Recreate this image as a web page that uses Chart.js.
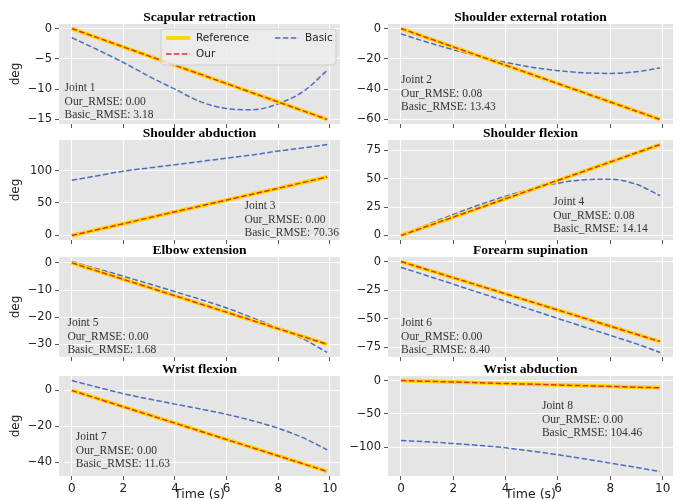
<!DOCTYPE html>
<html>
<head>
<meta charset="utf-8">
<script src="https://cdn.jsdelivr.net/npm/chart.js@4.4.1/dist/chart.umd.min.js"></script>
<style>
  html, body { margin: 0; padding: 0; background: #fff; }
  #wrap { position: relative; width: 681px; height: 500px; overflow: hidden; }
  #wrap canvas { position: absolute; left: 0; top: 0; }
</style>
</head>
<body>
<div id="wrap"></div>
<script>
// data
const timeRef = [0, 9.9];
const timeBasic = [0, 1, 2, 3, 4, 5, 6, 7, 8, 9, 9.9];
const xTicks = [0, 2, 4, 6, 8, 10];

const jointTitles = [
  'Scapular retraction', 'Shoulder external rotation',
  'Shoulder abduction', 'Shoulder flexion',
  'Elbow extension', 'Forearm supination',
  'Wrist flexion', 'Wrist abduction'
];

const refJ1 = [0, -15];
const refJ2 = [0, -60];
const refJ3 = [0, 90];
const refJ4 = [0, 80];
const refJ5 = [0, -30];
const refJ6 = [0, -70];
const refJ7 = [0, -45];
const refJ8 = [0, -11];

const ourJ1 = [0, -15];
const ourJ2 = [0, -60];
const ourJ3 = [0, 90];
const ourJ4 = [0, 80];
const ourJ5 = [0, -30];
const ourJ6 = [0, -70];
const ourJ7 = [0, -45];
const ourJ8 = [0, -11];

const basicJ1 = [-1.5, -3.5, -5.6, -7.9, -10.0, -12.1, -13.2, -13.4, -12.4, -10.3, -6.9];
const basicJ2 = [-3.5, -9, -14, -18.5, -22.3, -25.5, -27.8, -29.2, -29.6, -28.5, -26];
const basicJ3 = [85, 92, 99, 104, 109, 114, 119, 124, 130, 135, 140];
const basicJ4 = [0, 9.5, 18.5, 27, 34.5, 41, 46, 49, 49.5, 45, 35];
const basicJ5 = [0.5, -2.2, -4.9, -7.7, -10.6, -13.5, -16.6, -20.2, -24.0, -28.2, -33];
const basicJ6 = [-5, -12.4, -19.8, -27.3, -34.8, -42.3, -49.8, -57.2, -64.6, -72.0, -79.5];
const basicJ7 = [5.5, 1.8, -1.8, -4.8, -7.6, -10.3, -13.3, -16.8, -21, -26.5, -33];
const basicJ8 = [-90, -92, -94.5, -97.5, -101, -106, -111.5, -117.5, -124, -130.5, -136.5];

const yTicksJ1 = [-15, -10, -5, 0];
const yTicksJ2 = [-60, -40, -20, 0];
const yTicksJ3 = [0, 50, 100];
const yTicksJ4 = [0, 25, 50, 75];
const yTicksJ5 = [-30, -20, -10, 0];
const yTicksJ6 = [-75, -50, -25, 0];
const yTicksJ7 = [-40, -20, 0];
const yTicksJ8 = [-100, -50, 0];

const ourRmse = ['0.00', '0.08', '0.00', '0.08', '0.00', '0.00', '0.00', '0.00'];
const basicRmse = ['3.18', '13.43', '70.36', '14.14', '1.68', '8.40', '11.63', '104.46'];

const refSeries = [refJ1, refJ2, refJ3, refJ4, refJ5, refJ6, refJ7, refJ8];
const ourSeries = [ourJ1, ourJ2, ourJ3, ourJ4, ourJ5, ourJ6, ourJ7, ourJ8];
const basicSeries = [basicJ1, basicJ2, basicJ3, basicJ4, basicJ5, basicJ6, basicJ7, basicJ8];
const yTickSets = [yTicksJ1, yTicksJ2, yTicksJ3, yTicksJ4, yTicksJ5, yTicksJ6, yTicksJ7, yTicksJ8];

// layout (pixels of the 681x500 page)
const W = 681, H = 500;
const Y_AXIS_W = 50, X_AXIS_H = 22;
const colX = [[59, 340], [388, 673]];
const rowY = [[24, 124], [140, 240], [257, 357], [376, 476]];
// joint note position, as fraction of plot area (left, first line centre)
const notePos = [[0.02, 0.64], [0.046, 0.56], [0.66, 0.66], [0.58, 0.62],
                 [0.03, 0.66], [0.046, 0.66], [0.06, 0.61], [0.54, 0.30]];

const COLORS = { ref: '#FFD700', our: '#E0302E', basic: '#4A6DBE' };
const DASH = [5.5, 2.4];
const TICK_FONT = 'DejaVu Sans';
const SERIF = '"Liberation Serif", "Times New Roman", serif';

const wrap = document.getElementById('wrap');

const bgPlugin = {
  id: 'panelBg',
  beforeDraw(chart) {
    const a = chart.chartArea, c = chart.ctx;
    c.save();
    c.fillStyle = '#E5E5E5';
    c.fillRect(a.left, a.top, a.right - a.left, a.bottom - a.top);
    c.restore();
  }
};

function drawLegend(c, a) {
  const bw = 175, bh = 36;
  const bx = a.right - 4 - bw, by = a.top + 5;
  c.save();
  c.beginPath();
  c.roundRect(bx, by, bw, bh, 3);
  c.fillStyle = 'rgba(236,236,236,0.85)';
  c.fill();
  c.strokeStyle = '#CCCCCC';
  c.lineWidth = 1;
  c.stroke();

  const items = [
    { label: 'Reference', color: COLORS.ref, width: 4, dash: [], x: bx + 5, y: by + 9 },
    { label: 'Basic', color: COLORS.basic, width: 1.5, dash: DASH, x: bx + 114, y: by + 9 },
    { label: 'Our', color: COLORS.our, width: 1.5, dash: DASH, x: bx + 5, y: by + 25 }
  ];
  c.font = '10.5px ' + TICK_FONT;
  c.textBaseline = 'middle';
  c.fillStyle = '#222';
  items.forEach(it => {
    c.beginPath();
    c.setLineDash(it.dash);
    c.strokeStyle = it.color;
    c.lineWidth = it.width;
    c.moveTo(it.x, it.y);
    c.lineTo(it.x + 24, it.y);
    c.stroke();
    c.setLineDash([]);
    c.fillText(it.label, it.x + 30, it.y + 0.5);
  });
  c.restore();
}

const textPlugin = {
  id: 'panelText',
  afterDraw(chart, args, opts) {
    const a = chart.chartArea, c = chart.ctx;
    const i = opts.index;
    c.save();
    // title
    c.font = 'bold 13.5px ' + SERIF;
    c.fillStyle = '#000';
    c.textAlign = 'center';
    c.textBaseline = 'alphabetic';
    c.fillText(jointTitles[i], (a.left + a.right) / 2, a.top - 3);

    // joint note
    const nx = a.left + notePos[i][0] * (a.right - a.left);
    const ny = a.top + notePos[i][1] * (a.bottom - a.top);
    c.font = '11.5px ' + SERIF;
    c.fillStyle = '#333';
    c.textAlign = 'left';
    c.textBaseline = 'middle';
    const lines = ['Joint ' + (i + 1), 'Our_RMSE: ' + ourRmse[i], 'Basic_RMSE: ' + basicRmse[i]];
    lines.forEach((t, k) => c.fillText(t, nx, ny + k * 13.7));

    // y label on the left column
    if (opts.col === 0) {
      c.save();
      c.translate(16, (a.top + a.bottom) / 2);
      c.rotate(-Math.PI / 2);
      c.font = '12px ' + TICK_FONT;
      c.fillStyle = '#222';
      c.textAlign = 'center';
      c.textBaseline = 'middle';
      c.fillText('deg', 0, 0);
      c.restore();
    }
    // x label on the bottom row
    if (opts.row === 3) {
      c.font = '12.5px ' + TICK_FONT;
      c.fillStyle = '#222';
      c.textAlign = 'center';
      c.textBaseline = 'middle';
      c.fillText('Time (s)', (a.left + a.right) / 2, 495);
    }
    if (i === 0) drawLegend(c, a);
    c.restore();
  }
};

function toPoints(xs, ys) {
  return xs.map((x, k) => ({ x, y: ys[k] }));
}

function minus(v) {
  return String(v).replace('-', '\u2212');
}

jointTitles.forEach((title, i) => {
  const col = i % 2, row = Math.floor(i / 2);
  const [L, R] = colX[col];
  const [T, B] = rowY[row];

  const all = [...refSeries[i], ...ourSeries[i], ...basicSeries[i]];
  const lo = Math.min(...all), hi = Math.max(...all);
  const m = (hi - lo) * 0.05;
  const xm = (timeBasic[timeBasic.length - 1] - timeBasic[0]) * 0.05;

  const canvas = document.createElement('canvas');
  canvas.width = W; canvas.height = H;
  canvas.style.width = W + 'px'; canvas.style.height = H + 'px';
  wrap.appendChild(canvas);

  new Chart(canvas, {
    type: 'line',
    data: {
      datasets: [
        { label: 'Basic', data: toPoints(timeBasic, basicSeries[i]), borderColor: COLORS.basic, borderWidth: 1.5, borderDash: DASH, pointRadius: 0, cubicInterpolationMode: 'monotone', order: 3 },
        { label: 'Reference', data: toPoints(timeRef, refSeries[i]), borderColor: COLORS.ref, borderWidth: 4, pointRadius: 0, order: 2 },
        { label: 'Our', data: toPoints(timeRef, ourSeries[i]), borderColor: COLORS.our, borderWidth: 1.5, borderDash: DASH, pointRadius: 0, order: 1 }
      ]
    },
    options: {
      responsive: false,
      animation: false,
      events: [],
      layout: { padding: { left: L - Y_AXIS_W, right: W - R, top: T, bottom: H - B - X_AXIS_H } },
      plugins: { legend: { display: false }, tooltip: { enabled: false }, panelText: { index: i, col, row } },
      scales: {
        x: {
          type: 'linear',
          min: timeBasic[0] - xm,
          max: timeBasic[timeBasic.length - 1] + xm,
          afterBuildTicks: s => { s.ticks = xTicks.map(v => ({ value: v })); },
          afterFit: s => { s.height = X_AXIS_H; },
          border: { display: false },
          grid: { color: '#FFFFFF', lineWidth: 1, tickColor: '#555', tickLength: 4, drawTicks: true },
          ticks: { display: row === 3, color: '#222', padding: 2, maxRotation: 0, autoSkip: false, font: { family: TICK_FONT, size: 12 }, callback: v => minus(v) }
        },
        y: {
          type: 'linear',
          min: lo - m,
          max: hi + m,
          afterBuildTicks: s => { s.ticks = yTickSets[i].map(v => ({ value: v })); },
          afterFit: s => { s.width = Y_AXIS_W; },
          border: { display: false },
          grid: { color: '#FFFFFF', lineWidth: 1, tickColor: '#555', tickLength: 4, drawTicks: true },
          ticks: { color: '#222', padding: 3, autoSkip: false, font: { family: TICK_FONT, size: 11.5 }, callback: v => minus(v) }
        }
      }
    },
    plugins: [bgPlugin, textPlugin]
  });
});
</script>
</body>
</html>
